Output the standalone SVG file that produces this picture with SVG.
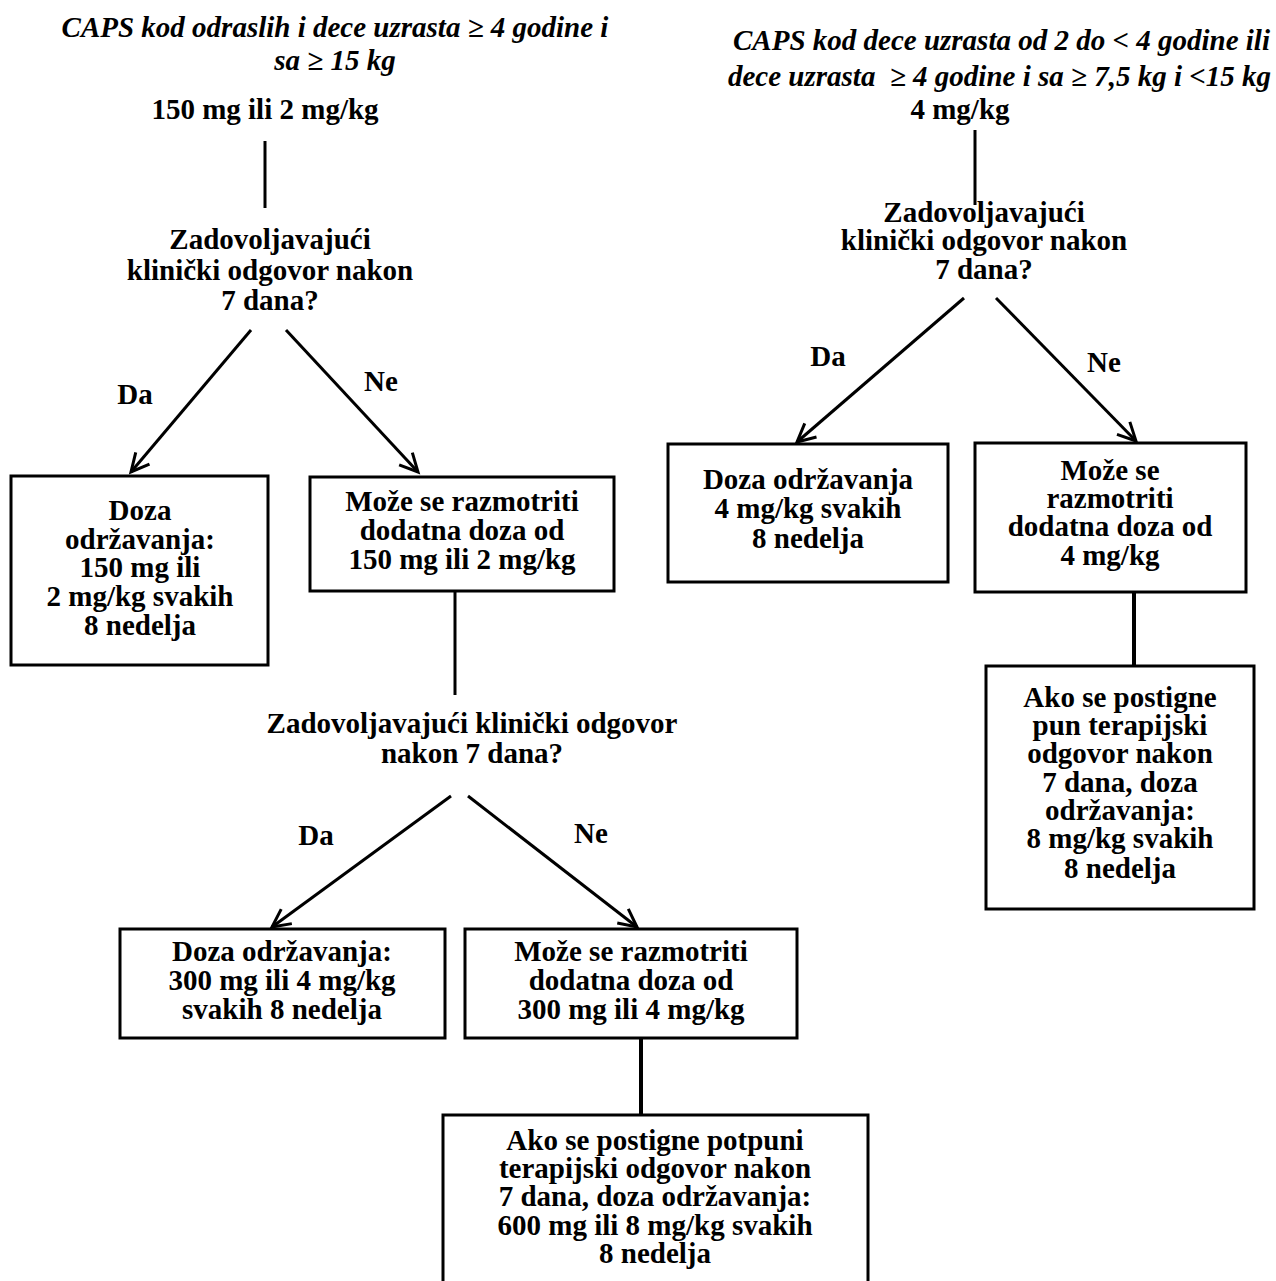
<svg xmlns="http://www.w3.org/2000/svg" width="1276" height="1281" viewBox="0 0 1276 1281">
<defs>
<style>
.t{font-family:"Liberation Serif","Times New Roman",serif;font-weight:bold;font-size:29px;fill:#000;text-anchor:middle}
.ti{font-family:"Liberation Serif","Times New Roman",serif;font-weight:bold;font-style:italic;font-size:29px;fill:#000}
.box{fill:#fff;stroke:#000;stroke-width:3}
.ln{stroke:#000;stroke-width:3;fill:none}
.ar{stroke:#000;stroke-width:3;fill:none;marker-end:url(#ah)}
</style>
<marker id="ah" viewBox="-22 -12 26 24" refX="0" refY="0" markerWidth="26" markerHeight="24" markerUnits="userSpaceOnUse" orient="auto">
<path d="M-18,-9 L0,0 L-18,9" fill="none" stroke="#000" stroke-width="3"/>
</marker>
</defs>
<rect x="0" y="0" width="1276" height="1281" fill="#fff"/>

<g id="connectors">
<line class="ln" x1="265" y1="141" x2="265" y2="208"/>
<line class="ar" x1="251" y1="330" x2="131" y2="472"/>
<line class="ar" x1="286" y1="330" x2="418" y2="472"/>
<line class="ln" x1="455" y1="591" x2="455" y2="695"/>
<line class="ar" x1="451" y1="796" x2="272" y2="927"/>
<line class="ar" x1="468" y1="796" x2="637" y2="927"/>
<line class="ln" x1="641" y1="1038" x2="641" y2="1115" style="stroke-width:4"/>
<line class="ln" x1="975" y1="130" x2="975" y2="205"/>
<line class="ar" x1="964" y1="298" x2="797" y2="442"/>
<line class="ar" x1="996" y1="298" x2="1136" y2="441"/>
<line class="ln" x1="1134" y1="592" x2="1134" y2="666" style="stroke-width:4"/>
</g>

<g id="title-left">
<text class="ti" x="335" y="37" text-anchor="middle">CAPS kod odraslih i dece uzrasta ≥ 4 godine i</text>
<text class="ti" x="335" y="70" text-anchor="middle">sa ≥ 15 kg</text>
</g>
<g id="dose-left">
<text class="t" x="265" y="119">150 mg ili 2 mg/kg</text>
</g>
<g id="decision-left-1">
<text class="t" x="270" y="249">Zadovoljavajući</text>
<text class="t" x="270" y="280">klinički odgovor nakon</text>
<text class="t" x="270" y="310">7 dana?</text>
</g>
<g id="label-da-1"><text class="t" x="135" y="404">Da</text></g>
<g id="label-ne-1"><text class="t" x="381" y="391">Ne</text></g>
<g id="box-maint-150">
<rect class="box" x="11" y="476" width="257" height="189"/>
<text class="t" x="140" y="520">Doza</text>
<text class="t" x="140" y="549">održavanja:</text>
<text class="t" x="140" y="577">150 mg ili</text>
<text class="t" x="140" y="606">2 mg/kg svakih</text>
<text class="t" x="140" y="635">8 nedelja</text>
</g>
<g id="box-extra-150">
<rect class="box" x="310" y="477" width="304" height="114"/>
<text class="t" x="462" y="511">Može se razmotriti</text>
<text class="t" x="462" y="540">dodatna doza od</text>
<text class="t" x="462" y="569">150 mg ili 2 mg/kg</text>
</g>
<g id="decision-left-2">
<text class="t" x="472" y="733">Zadovoljavajući klinički odgovor</text>
<text class="t" x="472" y="763">nakon 7 dana?</text>
</g>
<g id="label-da-2"><text class="t" x="316" y="845">Da</text></g>
<g id="label-ne-2"><text class="t" x="591" y="843">Ne</text></g>
<g id="box-maint-300">
<rect class="box" x="120" y="929" width="325" height="109"/>
<text class="t" x="282" y="961">Doza održavanja:</text>
<text class="t" x="282" y="990">300 mg ili 4 mg/kg</text>
<text class="t" x="282" y="1019">svakih 8 nedelja</text>
</g>
<g id="box-extra-300">
<rect class="box" x="465" y="929" width="332" height="109"/>
<text class="t" x="631" y="961">Može se razmotriti</text>
<text class="t" x="631" y="990">dodatna doza od</text>
<text class="t" x="631" y="1019">300 mg ili 4 mg/kg</text>
</g>
<g id="box-maint-600">
<rect class="box" x="443" y="1115" width="425" height="180"/>
<text class="t" x="655" y="1150">Ako se postigne potpuni</text>
<text class="t" x="655" y="1178">terapijski odgovor nakon</text>
<text class="t" x="655" y="1206">7 dana, doza održavanja:</text>
<text class="t" x="655" y="1235">600 mg ili 8 mg/kg svakih</text>
<text class="t" x="655" y="1263">8 nedelja</text>
</g>

<g id="title-right">
<text class="ti" x="733" y="50">CAPS kod dece uzrasta od 2 do &lt; 4 godine ili</text>
<text class="ti" x="728" y="86" xml:space="preserve">dece uzrasta  ≥ 4 godine i sa ≥ 7,5 kg i &lt;15 kg</text>
</g>
<g id="dose-right">
<text class="t" x="960" y="119">4 mg/kg</text>
</g>
<g id="decision-right">
<text class="t" x="984" y="222">Zadovoljavajući</text>
<text class="t" x="984" y="250">klinički odgovor nakon</text>
<text class="t" x="984" y="279">7 dana?</text>
</g>
<g id="label-da-r"><text class="t" x="828" y="366">Da</text></g>
<g id="label-ne-r"><text class="t" x="1104" y="372">Ne</text></g>
<g id="box-maint-4">
<rect class="box" x="668" y="444" width="280" height="138"/>
<text class="t" x="808" y="489">Doza održavanja</text>
<text class="t" x="808" y="518">4 mg/kg svakih</text>
<text class="t" x="808" y="548">8 nedelja</text>
</g>
<g id="box-extra-4">
<rect class="box" x="975" y="443" width="271" height="149"/>
<text class="t" x="1110" y="480">Može se</text>
<text class="t" x="1110" y="508">razmotriti</text>
<text class="t" x="1110" y="536">dodatna doza od</text>
<text class="t" x="1110" y="565">4 mg/kg</text>
</g>
<g id="box-maint-8">
<rect class="box" x="986" y="666" width="268" height="243"/>
<text class="t" x="1120" y="707">Ako se postigne</text>
<text class="t" x="1120" y="735">pun terapijski</text>
<text class="t" x="1120" y="763">odgovor nakon</text>
<text class="t" x="1120" y="792">7 dana, doza</text>
<text class="t" x="1120" y="820">održavanja:</text>
<text class="t" x="1120" y="848">8 mg/kg svakih</text>
<text class="t" x="1120" y="878">8 nedelja</text>
</g>
</svg>
